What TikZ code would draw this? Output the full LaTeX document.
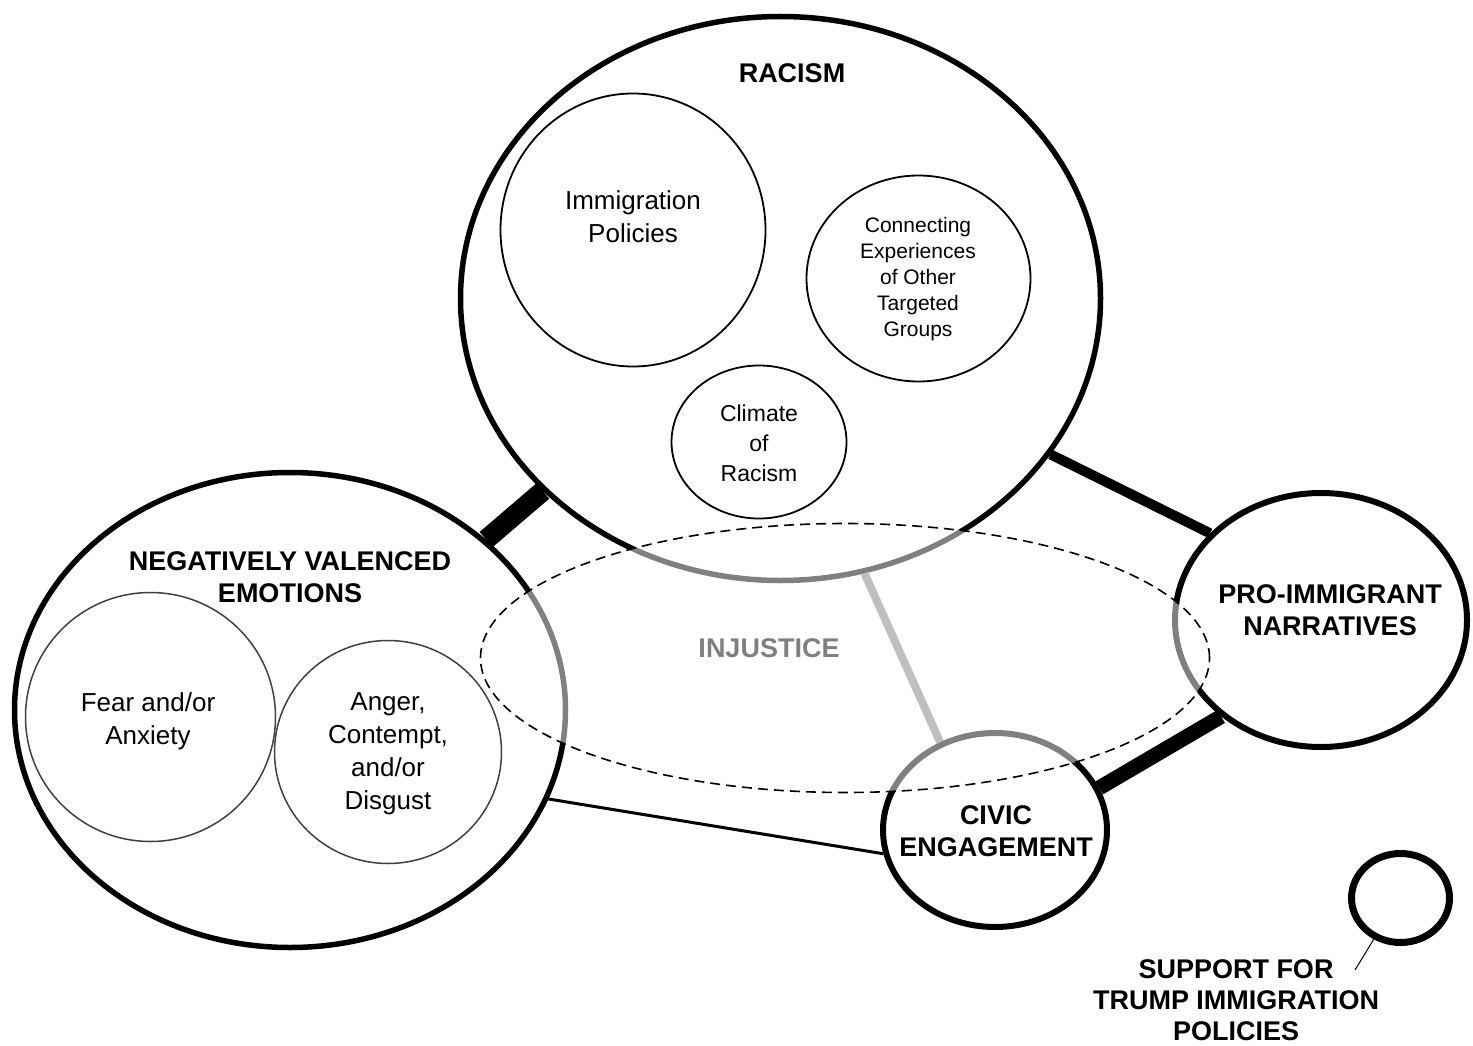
\documentclass[tikz,border=0pt]{standalone}
\usepackage{fontspec}
\setmainfont{Liberation Sans}
\usetikzlibrary{shapes.geometric}
\begin{document}
\begin{tikzpicture}[x=1pt,y=-1pt,
  bigc/.style={ellipse, draw=black, line width=5.5pt, inner sep=0pt},
  inc/.style={ellipse, draw=black, line width=1.8pt, inner sep=0pt},
  thinc/.style={ellipse, draw=black!75, line width=1.5pt, inner sep=0pt},
  head/.style={font=\bfseries\fontsize{27}{32}\selectfont, align=center, inner sep=0pt},
  body/.style={font=\fontsize{26}{33}\selectfont, align=center, inner sep=0pt},
  smalltxt/.style={font=\fontsize{21}{26}\selectfont, align=center, inner sep=0pt},
  midtxt/.style={font=\fontsize{23}{30}\selectfont, align=center, inner sep=0pt},
  link/.style={draw=black, line cap=butt}
]
\useasboundingbox (0,0) rectangle (1473,1046);

% circles
\node[bigc, minimum width=640pt, minimum height=564pt] (racism) at (780.5,298.5) {};
\node[bigc, minimum width=551pt, minimum height=475pt] (neg) at (290,710) {};
\node[bigc, line width=6pt, minimum width=292pt, minimum height=254pt] (pro) at (1321,620) {};
\node[bigc, line width=6pt, minimum width=224pt, minimum height=194pt] (civic) at (995,830) {};
\node[bigc, line width=7pt, minimum width=98pt, minimum height=89pt] (support) at (1400.5,898) {};

\node[inc, minimum width=265pt, minimum height=273pt] (immig) at (633,230) {};
\node[inc, minimum width=224pt, minimum height=206pt] (connect) at (918.5,278.5) {};
\node[inc, minimum width=175pt, minimum height=153pt] (climate) at (759,442) {};
\node[thinc, minimum width=250pt, minimum height=249pt] (fear) at (150.5,717) {};
\node[thinc, minimum width=227pt, minimum height=223pt] (anger) at (388,752) {};

% connectors
\draw[link, line width=20pt] (racism.219.5) -- (neg.41.9);
\draw[link, line width=10pt] (racism.-30.4) -- (pro.142.8);
\draw[link, line width=15pt] (pro.224.2) -- (civic.22.3);
\draw[link, draw=black!50, line width=8pt] (racism.-73.7) -- (civic.122);
\draw[link, line width=3pt] (neg.-19.4) -- (civic.192.5);
\coordinate (supend) at (1355,970);
\draw[line width=1pt] (support.237.6) -- (supend);

% injustice overlay
\node[ellipse, draw=black, dashed, dash pattern=on 10pt off 6pt, line width=1.6pt,
      fill=white, fill opacity=0.5, inner sep=0pt,
      minimum width=729pt, minimum height=269pt] (injustice) at (845,658) {};

% labels
\node[head] (lracism) at (792,73) {RACISM};
\node[head] (lneg) at (290,577) {NEGATIVELY VALENCED\\EMOTIONS};
\node[head, text=black!50] (linj) at (769,648) {INJUSTICE};
\node[head] (lpro) at (1330,610) {PRO-IMMIGRANT\\NARRATIVES};
\node[head] (lcivic) at (996,831) {CIVIC\\ENGAGEMENT};
\node[head, font=\bfseries\fontsize{27}{31}\selectfont] (lsupport) at (1236,1000) {SUPPORT FOR\\TRUMP IMMIGRATION\\POLICIES};

\node[body] (limmig) at (633,217) {Immigration\\Policies};
\node[smalltxt] (lconnect) at (918,279) {Connecting\\Experiences\\of Other\\Targeted\\Groups};
\node[midtxt] (lclimate) at (759,443) {Climate\\of\\Racism};
\node[body] (lfear) at (148,721) {Fear and/or\\Anxiety};
\node[body] (langer) at (388,754) {Anger,\\Contempt,\\and/or\\Disgust};
\end{tikzpicture}
\end{document}
